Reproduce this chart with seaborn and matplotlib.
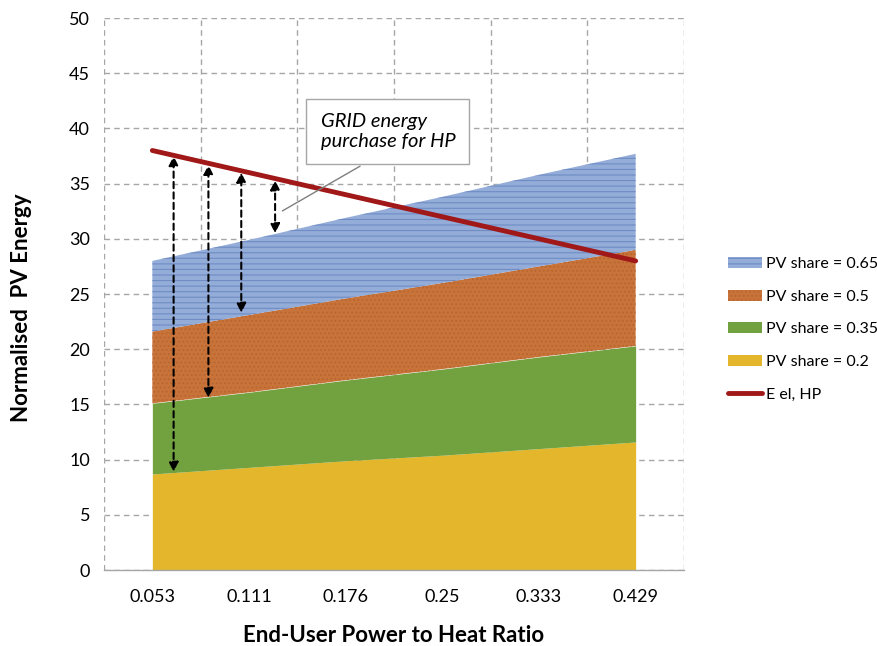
import numpy as np
import pandas as pd
import matplotlib
matplotlib.use("Agg")
import matplotlib.pyplot as plt
import seaborn as sns

# data
ratios = ["0.053", "0.111", "0.176", "0.25", "0.333", "0.429"]
pv_020 = [8.7, 9.3, 9.9, 10.4, 11.0, 11.6]
pv_035 = [15.1, 16.1, 17.2, 18.2, 19.3, 20.3]
pv_050 = [21.6, 23.1, 24.6, 26.0, 27.5, 29.0]
pv_065 = [28.0, 29.9, 31.9, 33.8, 35.8, 37.7]
e_el_hp = [38.0, 36.0, 34.0, 32.0, 30.0, 28.0]

# grid purchase arrows (between E el,HP line and the PV layers)
arrow_x = [0.22, 0.58, 0.92, 1.27]
arrow_top = [37.5, 36.7, 36.0, 35.3]
arrow_bottom = [8.9, 15.6, 23.3, 30.5]

sns.set_style("white")
plt.rcParams["font.family"] = ["Lato", "DejaVu Sans"]
plt.rcParams["hatch.linewidth"] = 0.8
plt.rcParams["text.color"] = "black"
plt.rcParams["axes.labelcolor"] = "black"
plt.rcParams["xtick.color"] = "black"
plt.rcParams["ytick.color"] = "black"

fig = plt.figure(figsize=(8.77, 6.46), dpi=100)
ax = fig.add_axes([0.1186, 0.1176, 0.6613, 0.8545])

xi = np.arange(len(ratios))
layers = [
    ([0] * 6, pv_020, "#e3b62c", "#e3b62c", None, "PV share = 0.2"),
    (pv_020, pv_035, "#72a23f", "#72a23f", None, "PV share = 0.35"),
    (pv_035, pv_050, "#c8733a", "#b8652f", "....", "PV share = 0.5"),
    (pv_050, pv_065, "#93acd8", "#6f8cc4", "---", "PV share = 0.65"),
]
handles = []
for lo, hi, fc, ec, hatch, lab in layers:
    h = ax.fill_between(xi, lo, hi, facecolor=fc, edgecolor=ec, hatch=hatch,
                        linewidth=0, label=lab, zorder=2)
    handles.append(h)

df = pd.DataFrame({"x": xi, "y": e_el_hp})
sns.lineplot(data=df, x="x", y="y", ax=ax, color="#a01818", linewidth=3.5,
             label="E el, HP", zorder=4)
line_handle = ax.get_lines()[-1]

for x, t, b in zip(arrow_x, arrow_top, arrow_bottom):
    ax.annotate("", xy=(x, t), xytext=(x, b),
                arrowprops=dict(arrowstyle="<|-|>", linestyle=(0, (3, 2)),
                                color="black", lw=1.5, mutation_scale=14,
                                shrinkA=0, shrinkB=0), zorder=5)

# callout box
ax.annotate("GRID energy\npurchase for HP", xy=(1.32, 32.4), xytext=(1.74, 39.7),
            fontsize=14.5, style="italic", ha="left", va="center",
            bbox=dict(boxstyle="square,pad=0.7", fc="white", ec="#a6a6a6", lw=1),
            arrowprops=dict(arrowstyle="-", color="#7f7f7f", lw=1,
                            relpos=(0.5, 0.0)), zorder=6)

ax.set_xlim(-0.5, 5.5)
ax.set_ylim(0, 50)
ax.set_xticks(xi)
ax.set_xticklabels(ratios)
ax.set_yticks(np.arange(0, 51, 5))
ax.set_xticks(np.arange(-0.5, 5.6, 1), minor=True)
ax.tick_params(axis="x", which="major", length=0, labelsize=13, pad=14)
ax.tick_params(axis="x", which="minor", length=5, color="#a6a6a6", direction="out")
ax.tick_params(axis="y", length=0, labelsize=13, pad=10)
ax.grid(True, which="major", axis="y", linestyle=(0, (4, 3)), color="#a6a6a6", lw=1)
ax.grid(True, which="minor", axis="x", linestyle=(0, (4, 3)), color="#a6a6a6", lw=1)
ax.set_axisbelow(True)
for s in ["top", "right", "left"]:
    ax.spines[s].set_visible(False)
ax.spines["bottom"].set_color("#a6a6a6")
ax.spines["bottom"].set_linewidth(1)
ax.spines["bottom"].set_zorder(3)

ax.set_xlabel("End-User Power to Heat Ratio", fontsize=16, fontweight="bold", labelpad=14)
ax.set_ylabel("Normalised  PV Energy", fontsize=16, fontweight="bold", labelpad=12)
ax.yaxis.set_label_coords(-0.125, 0.475)

leg_handles = handles[::-1] + [line_handle]
leg_labels = [h.get_label() for h in handles[::-1]] + ["E el, HP"]
ax.legend(leg_handles, leg_labels, loc="upper left", bbox_to_anchor=(0.823, 0.612),
          bbox_transform=fig.transFigure, frameon=False, fontsize=11.5,
          labelspacing=1.15, handlelength=2.1, handletextpad=0.3, borderaxespad=0)

fig.savefig("out.png", dpi=100)
